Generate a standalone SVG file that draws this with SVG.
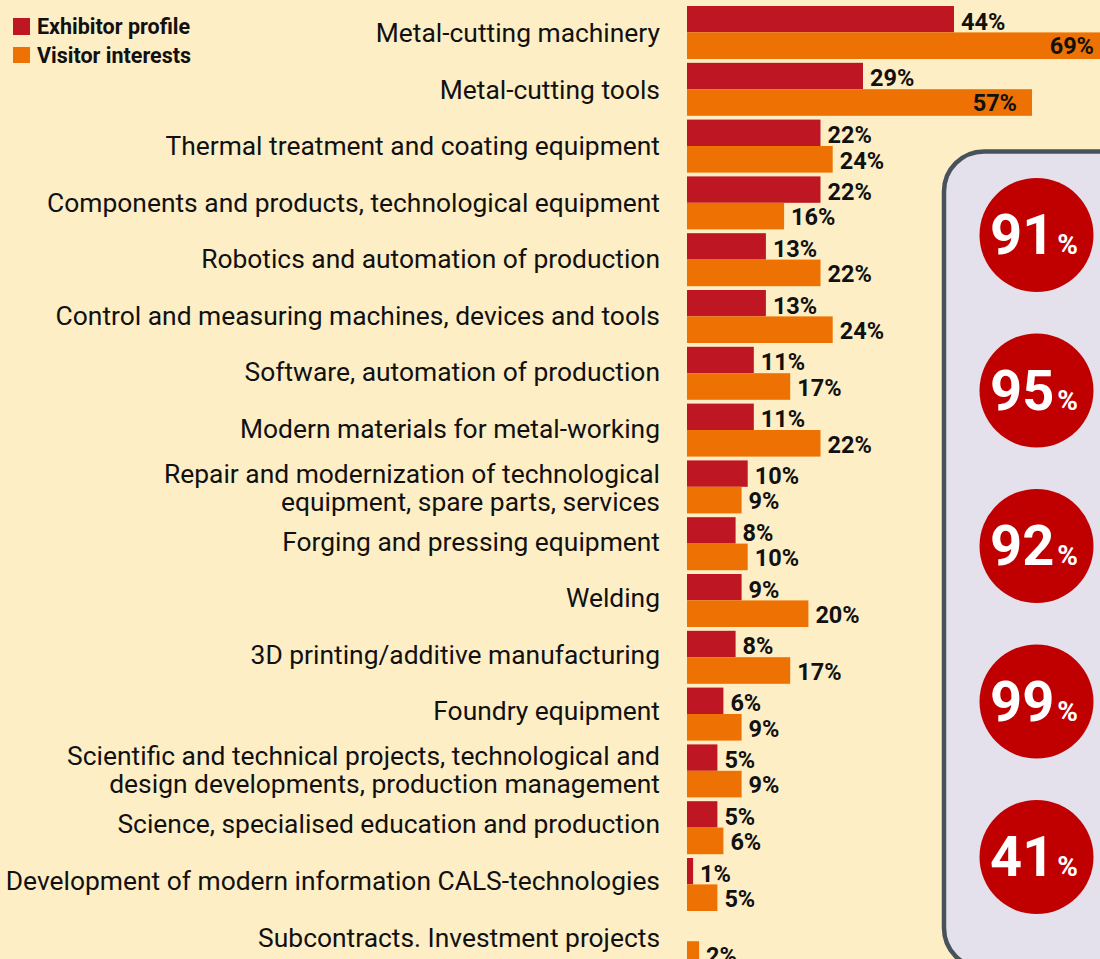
<svg xmlns="http://www.w3.org/2000/svg" width="1100" height="959" viewBox="0 0 1100 959">
<style>
.bg{fill:#feeec6}
.r{fill:#be1622}
.o{fill:#ee7203}
.cat{font-family:Roboto,"Liberation Sans",sans-serif;font-size:26.4px;fill:#111;text-anchor:end}
.pct{font-family:Roboto,"Liberation Sans",sans-serif;font-size:23.5px;font-weight:bold;fill:#111}
.pin{text-anchor:end}
.leg{font-family:Roboto,"Liberation Sans",sans-serif;font-size:21.5px;font-weight:bold;fill:#111}
.circ{fill:#c00000}
.num{font-family:Roboto,"Liberation Sans",sans-serif;font-size:56px;font-weight:bold;fill:#fff}
.ps{font-size:28px}
</style>
<rect class="bg" x="0" y="0" width="1100" height="959"/>
<g id="legend">
<rect class="r" x="13" y="18" width="17" height="17"/>
<text class="leg" x="37" y="34">Exhibitor profile</text>
<rect class="o" x="13" y="47" width="17" height="16"/>
<text class="leg" x="37" y="63">Visitor interests</text>
</g>
<g id="row0">
<text class="cat" x="660" y="42">Metal-cutting machinery</text>
<rect class="r" x="687" y="6" width="267" height="26.4"/>
<rect class="o" x="687" y="32.4" width="419" height="26.6"/>
<text class="pct" x="961" y="29.5">44%</text>
<text class="pct pin" x="1094" y="54">69%</text>
</g>
<g id="row1">
<text class="cat" x="660" y="98.5">Metal-cutting tools</text>
<rect class="r" x="687" y="62.8" width="176" height="26.4"/>
<rect class="o" x="687" y="89.2" width="345" height="26.6"/>
<text class="pct" x="870" y="86.3">29%</text>
<text class="pct pin" x="1017" y="110.8">57%</text>
</g>
<g id="row2">
<text class="cat" x="660" y="155">Thermal treatment and coating equipment</text>
<rect class="r" x="687" y="119.6" width="133.5" height="26.4"/>
<rect class="o" x="687" y="146" width="145.7" height="26.6"/>
<text class="pct" x="827.5" y="143.1">22%</text>
<text class="pct" x="839.7" y="168.6">24%</text>
</g>
<g id="row3">
<text class="cat" x="660" y="211.6">Components and products, technological equipment</text>
<rect class="r" x="687" y="176.4" width="133.5" height="26.4"/>
<rect class="o" x="687" y="202.8" width="97.1" height="26.6"/>
<text class="pct" x="827.5" y="199.9">22%</text>
<text class="pct" x="791.1" y="225.4">16%</text>
</g>
<g id="row4">
<text class="cat" x="660" y="268.1">Robotics and automation of production</text>
<rect class="r" x="687" y="233.2" width="78.9" height="26.4"/>
<rect class="o" x="687" y="259.6" width="133.5" height="26.6"/>
<text class="pct" x="772.9" y="256.7">13%</text>
<text class="pct" x="827.5" y="282.2">22%</text>
</g>
<g id="row5">
<text class="cat" x="660" y="324.7">Control and measuring machines, devices and tools</text>
<rect class="r" x="687" y="290" width="78.9" height="26.4"/>
<rect class="o" x="687" y="316.4" width="145.7" height="26.6"/>
<text class="pct" x="772.9" y="313.5">13%</text>
<text class="pct" x="839.7" y="339">24%</text>
</g>
<g id="row6">
<text class="cat" x="660" y="381.2">Software, automation of production</text>
<rect class="r" x="687" y="346.8" width="66.8" height="26.4"/>
<rect class="o" x="687" y="373.2" width="103.2" height="26.6"/>
<text class="pct" x="760.8" y="370.3">11%</text>
<text class="pct" x="797.2" y="395.8">17%</text>
</g>
<g id="row7">
<text class="cat" x="660" y="437.7">Modern materials for metal-working</text>
<rect class="r" x="687" y="403.6" width="66.8" height="26.4"/>
<rect class="o" x="687" y="430" width="133.5" height="26.6"/>
<text class="pct" x="760.8" y="427.1">11%</text>
<text class="pct" x="827.5" y="452.6">22%</text>
</g>
<g id="row8">
<text class="cat" x="660" y="483">Repair and modernization of technological</text>
<text class="cat" x="660" y="511">equipment, spare parts, services</text>
<rect class="r" x="687" y="460.4" width="60.7" height="26.4"/>
<rect class="o" x="687" y="486.8" width="54.6" height="26.6"/>
<text class="pct" x="754.7" y="483.9">10%</text>
<text class="pct" x="748.6" y="509.4">9%</text>
</g>
<g id="row9">
<text class="cat" x="660" y="550.8">Forging and pressing equipment</text>
<rect class="r" x="687" y="517.2" width="48.6" height="26.4"/>
<rect class="o" x="687" y="543.6" width="60.7" height="26.6"/>
<text class="pct" x="742.6" y="540.7">8%</text>
<text class="pct" x="754.7" y="566.2">10%</text>
</g>
<g id="row10">
<text class="cat" x="660" y="607.3">Welding</text>
<rect class="r" x="687" y="574" width="54.6" height="26.4"/>
<rect class="o" x="687" y="600.4" width="121.4" height="26.6"/>
<text class="pct" x="748.6" y="597.5">9%</text>
<text class="pct" x="815.4" y="623">20%</text>
</g>
<g id="row11">
<text class="cat" x="660" y="663.8">3D printing/additive manufacturing</text>
<rect class="r" x="687" y="630.8" width="48.6" height="26.4"/>
<rect class="o" x="687" y="657.2" width="103.2" height="26.6"/>
<text class="pct" x="742.6" y="654.3">8%</text>
<text class="pct" x="797.2" y="679.8">17%</text>
</g>
<g id="row12">
<text class="cat" x="660" y="720.4">Foundry equipment</text>
<rect class="r" x="687" y="687.6" width="36.4" height="26.4"/>
<rect class="o" x="687" y="714" width="54.6" height="26.6"/>
<text class="pct" x="730.4" y="711.1">6%</text>
<text class="pct" x="748.6" y="736.6">9%</text>
</g>
<g id="row13">
<text class="cat" x="660" y="765.4">Scientific and technical projects, technological and</text>
<text class="cat" x="660" y="793.4">design developments, production management</text>
<rect class="r" x="687" y="744.4" width="30.4" height="26.4"/>
<rect class="o" x="687" y="770.8" width="54.6" height="26.6"/>
<text class="pct" x="724.4" y="767.9">5%</text>
<text class="pct" x="748.6" y="793.4">9%</text>
</g>
<g id="row14">
<text class="cat" x="660" y="833.4">Science, specialised education and production</text>
<rect class="r" x="687" y="801.2" width="30.4" height="26.4"/>
<rect class="o" x="687" y="827.6" width="36.4" height="26.6"/>
<text class="pct" x="724.4" y="824.7">5%</text>
<text class="pct" x="730.4" y="850.2">6%</text>
</g>
<g id="row15">
<text class="cat" x="660" y="890">Development of modern information CALS-technologies</text>
<rect class="r" x="687" y="858" width="6.1" height="26.4"/>
<rect class="o" x="687" y="884.4" width="30.4" height="26.6"/>
<text class="pct" x="700.1" y="881.5">1%</text>
<text class="pct" x="724.4" y="907">5%</text>
</g>
<g id="row16">
<text class="cat" x="660" y="946.5">Subcontracts. Investment projects</text>
<rect class="o" x="687" y="941.2" width="12.1" height="26.6"/>
<text class="pct" x="706.1" y="963.8">2%</text>
</g>
<g id="panel">
<rect x="944" y="151.5" width="220" height="816.5" rx="40" ry="40" fill="#e4e1ec" stroke="#47535b" stroke-width="4.5"/>
</g>
<g id="stat1"><circle class="circ" cx="1036.5" cy="235" r="57"/><text class="num" x="990" y="254">91<tspan class="ps" dx="3">%</tspan></text></g>
<g id="stat2"><circle class="circ" cx="1036.5" cy="390.5" r="57"/><text class="num" x="990" y="409.5">95<tspan class="ps" dx="3">%</tspan></text></g>
<g id="stat3"><circle class="circ" cx="1036.5" cy="546" r="57"/><text class="num" x="990" y="565">92<tspan class="ps" dx="3">%</tspan></text></g>
<g id="stat4"><circle class="circ" cx="1036.5" cy="701.5" r="57"/><text class="num" x="990" y="720.5">99<tspan class="ps" dx="3">%</tspan></text></g>
<g id="stat5"><circle class="circ" cx="1036.5" cy="857" r="57"/><text class="num" x="990" y="876">41<tspan class="ps" dx="3">%</tspan></text></g>
</svg>
